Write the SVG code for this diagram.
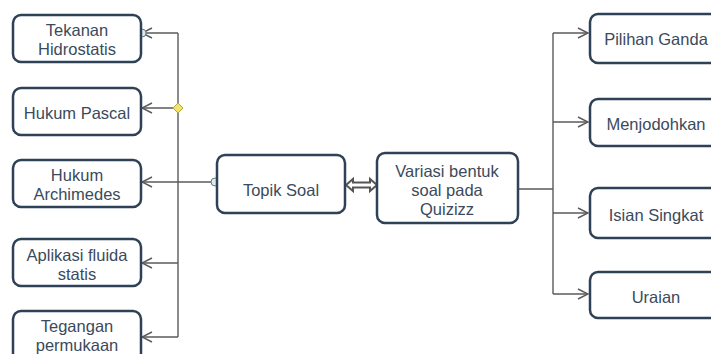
<svg xmlns="http://www.w3.org/2000/svg" width="711" height="354" viewBox="0 0 711 354">
<defs>
<style>
.box{fill:#fff;stroke:#2f4157;stroke-width:2.5}
.t{font-family:"Liberation Sans",Arial,sans-serif;font-size:16.5px;fill:#3b4a5c;text-anchor:middle}
.c{fill:none;stroke:#5a5a5a;stroke-width:1.4}
</style>
<marker id="ar" viewBox="0 0 12 12" refX="11" refY="6" markerWidth="12" markerHeight="12" markerUnits="userSpaceOnUse" orient="auto">
<path d="M1,1 L11,6 L1,11" fill="none" stroke="#5a5a5a" stroke-width="1.4"/>
</marker>
</defs>
<rect width="711" height="354" fill="#fff"/>
<g id="connectors">
<path class="c" d="M178,33 V337"/>
<path class="c" d="M178,33 H142" marker-end="url(#ar)"/>
<path class="c" d="M178,108 H142" marker-end="url(#ar)"/>
<path class="c" d="M216,182 H142" marker-end="url(#ar)"/>
<path class="c" d="M178,263 H142" marker-end="url(#ar)"/>
<path class="c" d="M178,337 H142" marker-end="url(#ar)"/>
<circle cx="142" cy="33" r="4" fill="#dcebf2" stroke="#6a7a80" stroke-width="1"/>
<circle cx="215" cy="182" r="4" fill="#dcebf2" stroke="#6a7a80" stroke-width="1"/>
<path d="M178,103 L183,108 L178,113 L173,108 Z" fill="#f3e36a" stroke="#b5a93a" stroke-width="1"/>
<path d="M346,185 L353,179 L353,182.5 L370,182.5 L370,179 L377,185 L370,191 L370,187.5 L353,187.5 L353,191 Z" fill="#fff" stroke="#555" stroke-width="2"/>
<path class="c" d="M519,189 H553"/>
<path class="c" d="M553,33 V294"/>
<path class="c" d="M553,33 H588" marker-end="url(#ar)"/>
<path class="c" d="M553,122 H588" marker-end="url(#ar)"/>
<path class="c" d="M553,213 H588" marker-end="url(#ar)"/>
<path class="c" d="M553,294 H588" marker-end="url(#ar)"/>
</g>
<g id="n1"><rect class="box" x="13" y="15" width="128" height="47" rx="8"/><text class="t" x="77" y="36">Tekanan</text><text class="t" x="77" y="55">Hidrostatis</text></g>
<g id="n2"><rect class="box" x="13" y="88" width="128" height="47" rx="8"/><text class="t" x="77" y="119">Hukum Pascal</text></g>
<g id="n3"><rect class="box" x="13" y="160" width="128" height="47" rx="8"/><text class="t" x="77" y="181">Hukum</text><text class="t" x="77" y="200">Archimedes</text></g>
<g id="n4"><rect class="box" x="13" y="239" width="128" height="47" rx="8"/><text class="t" x="77" y="261">Aplikasi fluida</text><text class="t" x="77" y="280">statis</text></g>
<g id="n5"><rect class="box" x="13" y="311" width="128" height="50" rx="8"/><text class="t" x="77" y="332">Tegangan</text><text class="t" x="77" y="351">permukaan</text></g>
<g id="n6"><rect class="box" x="217" y="155" width="128" height="58" rx="8"/><text class="t" x="281" y="196">Topik Soal</text></g>
<g id="n7"><rect class="box" x="377" y="153" width="141" height="70" rx="8"/><text class="t" x="447" y="177">Variasi bentuk</text><text class="t" x="447" y="196">soal pada</text><text class="t" x="447" y="215">Quizizz</text></g>
<g id="n8"><rect class="box" x="590" y="14" width="135" height="49" rx="8"/><text class="t" x="656" y="45">Pilihan Ganda</text></g>
<g id="n9"><rect class="box" x="590" y="99" width="135" height="47" rx="8"/><text class="t" x="656" y="130">Menjodohkan</text></g>
<g id="n10"><rect class="box" x="590" y="188" width="135" height="50" rx="8"/><text class="t" x="656" y="221">Isian Singkat</text></g>
<g id="n11"><rect class="box" x="590" y="272" width="135" height="46" rx="8"/><text class="t" x="656" y="303">Uraian</text></g>
</svg>
